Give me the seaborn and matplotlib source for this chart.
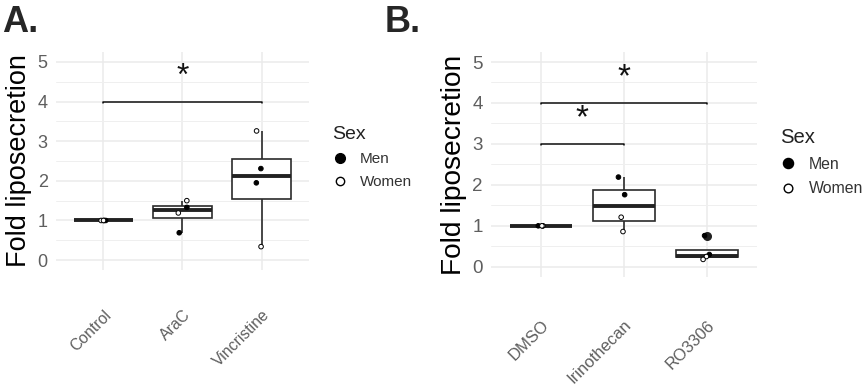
import numpy as np
import pandas as pd
import matplotlib.pyplot as plt
import seaborn as sns
from matplotlib.lines import Line2D
from matplotlib.ticker import MultipleLocator

# Panel A: fold liposecretion per treatment
treat_a = ['Control', 'AraC', 'Vincristine']
fold_control = [1.0, 1.0, 1.0, 1.0]
fold_arac = [1.50, 1.33, 1.19, 0.69]
fold_vinc = [3.26, 2.31, 1.95, 0.34]
sex_control = ['Men', 'Men', 'Women', 'Women']
sex_arac = ['Women', 'Men', 'Women', 'Men']
sex_vinc = ['Women', 'Men', 'Men', 'Women']
signif_a = [('Control', 'Vincristine', 4.0)]

# Panel B
treat_b = ['DMSO', 'Irinothecan', 'RO3306']
fold_dmso = [1.0, 1.0, 1.0, 1.0]
fold_irino = [2.19, 1.76, 1.21, 0.86]
fold_ro = [0.76, 0.30, 0.25, 0.18]
sex_dmso = ['Men', 'Men', 'Women', 'Women']
sex_irino = ['Men', 'Men', 'Women', 'Women']
sex_ro = ['Men', 'Men', 'Women', 'Women']
signif_b = [('DMSO', 'Irinothecan', 3.0), ('DMSO', 'RO3306', 4.0)]

df_a = pd.DataFrame({
    'Treatment': [treat_a[0]] * 4 + [treat_a[1]] * 4 + [treat_a[2]] * 4,
    'Fold': fold_control + fold_arac + fold_vinc,
    'Sex': sex_control + sex_arac + sex_vinc,
})
df_b = pd.DataFrame({
    'Treatment': [treat_b[0]] * 4 + [treat_b[1]] * 4 + [treat_b[2]] * 4,
    'Fold': fold_dmso + fold_irino + fold_ro,
    'Sex': sex_dmso + sex_irino + sex_ro,
})

sns.set_style('white')
plt.rcParams['font.family'] = ['Liberation Sans', 'DejaVu Sans']

np.random.seed(3)
fig = plt.figure(figsize=(8.65, 3.85), dpi=100)
ax_a = fig.add_axes([0.0647, 0.2987, 0.2925, 0.566])
ax_b = fig.add_axes([0.5676, 0.2805, 0.3075, 0.585])


def draw_panel(ax, df, order, comps, scale, xsize, xpad, leg_xy):
    sns.boxplot(data=df, x='Treatment', y='Fold', order=order, ax=ax,
                width=0.75, color='white', linecolor='#2b2b2b', linewidth=1.2,
                showcaps=False, medianprops={'linewidth': 2.8, 'color': '#222222'},
                flierprops={'marker': 'o', 'markerfacecolor': '#222222',
                            'markeredgecolor': '#222222', 'markersize': 5.5})
    sns.stripplot(data=df, x='Treatment', y='Fold', order=order, hue='Sex',
                  hue_order=['Men', 'Women'],
                  palette={'Men': 'black', 'Women': 'white'},
                  edgecolor='black', linewidth=0.7, size=3.3, jitter=0.07,
                  legend=False, zorder=4, ax=ax)

    for g1, g2, yv in comps:
        x1, x2 = order.index(g1), order.index(g2)
        ax.plot([x1, x1, x2, x2], [yv - 0.03, yv, yv, yv - 0.03],
                color='#111111', lw=1.1, zorder=5)
        ax.text((x1 + x2) / 2, yv + 0.62, '*', ha='center', va='center',
                fontsize=23 * scale, color='#111111')

    ax.set_xlim(-0.6, 2.6)
    ax.set_ylim(-0.25, 5.25)
    ax.yaxis.set_major_locator(MultipleLocator(1))
    ax.yaxis.set_minor_locator(MultipleLocator(0.5))
    ax.grid(which='major', color='#EBEBEB', lw=1.1)
    ax.grid(which='minor', axis='y', color='#EFEFEF', lw=0.7)
    ax.set_axisbelow(True)
    sns.despine(ax=ax, left=True, bottom=True)
    ax.tick_params(axis='both', which='both', length=0, colors='#5e5e5e')
    ax.tick_params(axis='y', labelsize=13 * scale, pad=6)
    ax.tick_params(axis='x', labelsize=xsize, pad=xpad)
    for lab in ax.get_xticklabels():
        lab.set_rotation(45)
        lab.set_ha('right')
        lab.set_va('top')
        lab.set_rotation_mode('anchor')
    ax.set_xlabel('')
    ax.set_ylabel('Fold liposecretion', fontsize=19.5 * scale, color='black',
                  labelpad=4)

    handles = [
        Line2D([], [], marker='o', ls='', markerfacecolor='black',
               markeredgecolor='black', markersize=7 * scale),
        Line2D([], [], marker='o', ls='', markerfacecolor='white',
               markeredgecolor='black', markersize=6 * scale),
    ]
    leg = ax.legend(handles, ['Men', 'Women'], title='Sex', loc='upper left',
                    bbox_to_anchor=leg_xy, bbox_transform=fig.transFigure,
                    frameon=False, alignment='left', borderpad=0,
                    borderaxespad=0, fontsize=11 * scale,
                    title_fontsize=14 * scale, handletextpad=0.8,
                    labelspacing=0.6, handlelength=1.0)
    leg.get_title().set_color('#222222')
    for t in leg.get_texts():
        t.set_color('#333333')


draw_panel(ax_a, df_a, treat_a, signif_a, 1.0, 11.3, 27,
           (332 / 865, 1 - 126 / 385))
draw_panel(ax_b, df_b, treat_b, signif_b, 1.04, 12, 29,
           (780 / 865, 1 - 128 / 385))

fig.text(2 / 865, 1 - 5 / 385, 'A.', fontsize=26, fontweight='bold',
         ha='left', va='top')
fig.text(385 / 865, 1 - 5 / 385, 'B.', fontsize=26, fontweight='bold',
         ha='left', va='top')

fig.savefig('out.png', dpi=100)
